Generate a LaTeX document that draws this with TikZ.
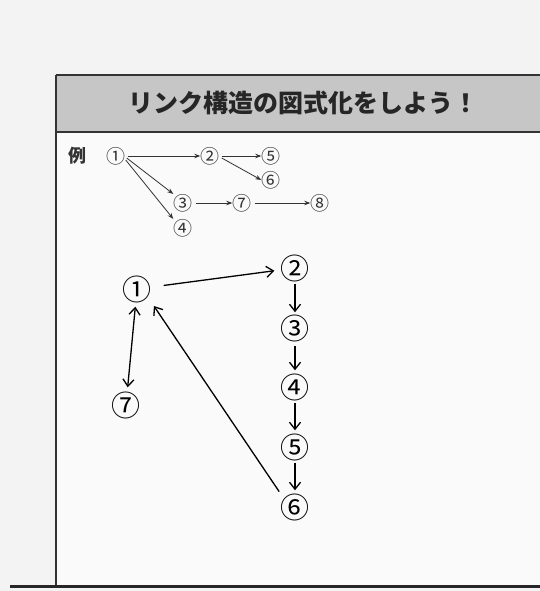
\documentclass[tikz,border=0pt]{standalone}
\usepackage{fontspec}
\newfontfamily\cjk{Noto Sans CJK JP}
\usetikzlibrary{arrows.meta}
\definecolor{pagebg}{HTML}{F3F3F3}
\definecolor{boxbg}{HTML}{FAFAFA}
\definecolor{headbg}{HTML}{C6C6C6}
\definecolor{ink}{HTML}{333333}
\tikzset{
  exnum/.style={font=\cjk\fontsize{19}{19}\selectfont, inner sep=0pt, text=ink},
  bignum/.style={font=\cjk\fontsize{29}{29}\selectfont, inner sep=0pt, text=black},
  exarrow/.style={draw=ink, line width=0.8pt, -{Stealth[length=6pt,width=4.5pt]}},
  hand/.style={draw=black, line width=1.3pt, -{Straight Barb[length=7pt,width=11pt]}},
  handboth/.style={draw=black, line width=1.3pt, {Straight Barb[length=7pt,width=11pt]}-{Straight Barb[length=7pt,width=11pt]}},
}
\begin{document}
\begin{tikzpicture}[x=1pt,y=-1pt]
\useasboundingbox (0,0) rectangle (540,591);
\fill[pagebg] (0,0) rectangle (540,591);
% frame
\fill[boxbg] (56,132) rectangle (540,585);
\fill[headbg] (56,75) rectangle (540,132);
\draw[ink, line width=1.6pt] (56,75) -- (540,75);
\draw[ink, line width=1.4pt] (56,132) -- (540,132);
\draw[ink, line width=1.8pt] (56,75) -- (56,585);
\draw[black!85, line width=3pt] (10,586) -- (540,586);
\node[font=\cjk\bfseries\fontsize{25}{25}\selectfont, text=black!85] (title) at (303,103) {リンク構造の図式化をしよう！};
% example
\node[font=\cjk\bfseries\fontsize{18}{18}\selectfont, text=ink] (rei) at (77,156) {例};
\node[exnum] (e1) at (116,156) {①};
\node[exnum] (e2) at (210,156) {②};
\node[exnum] (e5) at (271,156) {⑤};
\node[exnum] (e6) at (271,180) {⑥};
\node[exnum] (e3) at (183,203) {③};
\node[exnum] (e7) at (242,203) {⑦};
\node[exnum] (e8) at (320,203) {⑧};
\node[exnum] (e4) at (183,228) {④};
\draw[exarrow] (e1.east) ++(2,0) -- (e2.west);
\draw[exarrow] (e1.east) ++(1,2) -- (e3.north west);
\draw[exarrow] (e1.east) ++(0,4) -- (e4.north west);
\draw[exarrow] (e2.east) ++(2,0) -- (e5.west);
\draw[exarrow] (e2.east) ++(2,2) -- (e6.west);
\draw[exarrow] (e3.east) ++(3,0) -- (e7.west);
\draw[exarrow] (e7.east) ++(3,0) -- (e8.west);
% hand-drawn diagram
\node[bignum] (l1) at (137,289) {①};
\node[bignum] (l2) at (295,268) {②};
\node[bignum] (l3) at (295,328) {③};
\node[bignum] (l4) at (295,387) {④};
\node[bignum] (l5) at (295,447) {⑤};
\node[bignum] (l6) at (295,507) {⑥};
\node[bignum] (l7) at (126,405) {⑦};
\draw[hand, shorten <=12pt, shorten >=6pt] (l1) -- (l2);
\draw[hand, shorten <=2pt, shorten >=2pt] (l2) -- (l3);
\draw[hand, shorten <=4pt, shorten >=3pt] (l3) -- (l4);
\draw[hand, shorten <=2pt, shorten >=3pt] (l4) -- (l5);
\draw[hand, shorten <=2pt, shorten >=3pt] (l5) -- (l6);
\draw[handboth, shorten <=4pt, shorten >=4pt] (l1) -- (l7);
\draw[hand, shorten <=2pt, shorten >=4pt] (l6.north west) -- (l1.south east);
\end{tikzpicture}
\end{document}
